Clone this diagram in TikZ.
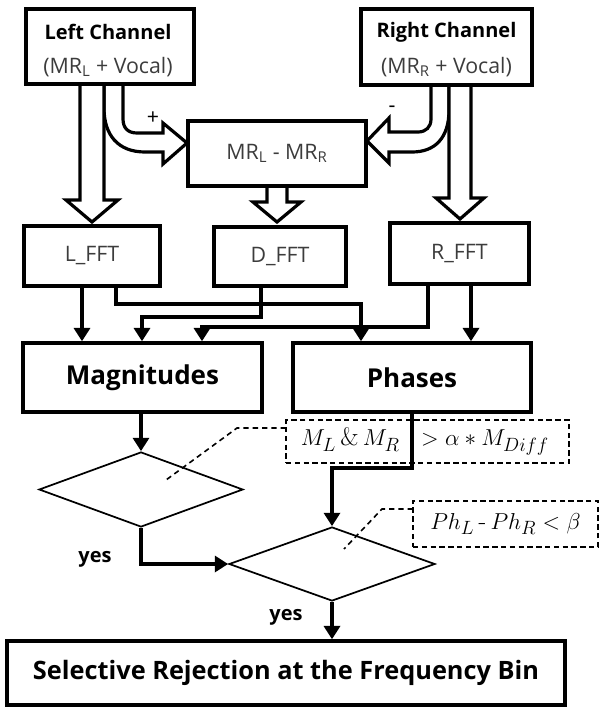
\documentclass[tikz,border=0pt]{standalone}
\usepackage{fontspec}
\setmainfont{Open Sans}
\newfontfamily\lmserif{Latin Modern Roman}
\usetikzlibrary{shapes.geometric,arrows.meta,calc}
\definecolor{txtgray}{HTML}{3C3C3C}
\tikzset{
  box/.style={draw, line width=2.6pt, rectangle, inner sep=0pt, align=center},
  hollow/.style={draw, line width=2.4pt, fill=white, line join=miter},
  conn/.style={line width=2.6pt, -{Triangle[width=12pt,length=10pt]}},
  dia/.style={draw, diamond, line width=1.3pt, inner sep=0pt},
  note/.style={draw, dash pattern=on 4pt off 2.6pt, line width=1.4pt, fill=white, inner sep=0pt},
  leader/.style={dash pattern=on 4pt off 3pt, line width=1.2pt},
  reg/.style={font=\fontsize{16}{18}\selectfont, text=txtgray},
  title/.style={font=\fontsize{15}{17}\selectfont\bfseries},
  big/.style={font=\fontsize{19.5}{22}\selectfont\bfseries},
  mathlbl/.style={font=\fontsize{19}{21}\selectfont}
}
\begin{document}
\begin{tikzpicture}[x=0.75pt,y=-0.75pt]
\useasboundingbox (0,0) rectangle (599,707);

% hollow arrows
\path[hollow] (104,84) -- (104,108) .. controls (104,135) and (118,152) .. (145,152) -- (163,152) -- (163,164) -- (187,143) -- (163,123) -- (163,133) -- (137,133) .. controls (128,133) and (123,128) .. (123,119) -- (123,84);
\path[hollow] (80,84) -- (80,200) -- (66,200) -- (92,222) -- (118,200) -- (104,200) -- (104,84);
\path[hollow] (449,85) -- (449,110) .. controls (449,138) and (435,152) .. (412,152) -- (389,152) -- (389,163) -- (367,141) -- (389,118) -- (389,132) -- (418,132) .. controls (426,132) and (431,127) .. (431,119) -- (431,85);
\path[hollow] (449,85) -- (449,198) -- (436,198) -- (460,219) -- (484,198) -- (471,198) -- (471,85);
\path[hollow] (267,186) -- (267,202) -- (253,202) -- (277,222) -- (301,202) -- (287,202) -- (287,186);

% boxes
\node[box, minimum width=126pt, minimum height=56.25pt] (left) at (110,46.5) {};
\node[title] (lefttitle) at (108,32) {Left Channel};
\node[reg] (leftsub) at (108,67) {(MR\textsubscript{L} + Vocal)};
\node[box, minimum width=128.25pt, minimum height=57pt] (right) at (446.5,47) {};
\node[title] (righttitle) at (446.5,32) {Right Channel};
\node[reg] (rightsub) at (446.5,67) {(MR\textsubscript{R} + Vocal)};
\node[box, reg, minimum width=133.5pt, minimum height=48.75pt] (mr) at (277,153.5) {MR\textsubscript{L} - MR\textsubscript{R}};
\node[reg, text=black] (plus) at (153,118) {+};
\node[reg, text=black] (minus) at (392,109) {-};

\node[box, reg, minimum width=102pt, minimum height=45pt] (lfft) at (92,256) {L\_FFT};
\node[box, reg, minimum width=99pt, minimum height=44.25pt] (dfft) at (280,256.5) {D\_FFT};
\node[box, reg, minimum width=104.25pt, minimum height=45.75pt] (rfft) at (459.5,253.5) {R\_FFT};

\node[box, big, minimum width=179.25pt, minimum height=51.75pt] (mag) at (142.5,377.5) {Magnitudes};
\node[box, big, minimum width=178.5pt, minimum height=51.75pt] (ph) at (412,377.5) {Phases};

\node[dia, minimum width=153pt, minimum height=56.25pt] (d1) at (141,489.5) {};
\node[dia, minimum width=154.5pt, minimum height=55.5pt] (d2) at (332,564) {};

\node[box, big, font=\fontsize{19}{22}\selectfont\bfseries, minimum width=418.5pt, minimum height=48pt] (final) at (286,673) {Selective Rejection at the Frequency Bin};

% notes
\coordinate (l1) at (166,480);
\coordinate (l2) at (344,549);
\draw[leader] (286,428) -- (237,428) -- (l1);
\draw[leader] (413,509) -- (382,509) -- (l2);
\node[note, mathlbl, minimum width=212.25pt, minimum height=32.25pt, text width=190pt, align=left, inner xsep=11pt] (n1) at (427.5,441.5)
  {$M_L$\,{\lmserif\&}\,$M_R$\hspace{16pt}$>\alpha*M_{Diff}$};
\node[note, mathlbl, minimum width=138.75pt, minimum height=34.5pt] (n2) at (505.5,524) {$Ph_L$\,{\lmserif -}\,$Ph_R<\beta$};

% connectors
\draw[conn] (lfft.south -| 82,0) -- (mag.north -| 82,0);
\draw[conn] (lfft.south -| 116,0) |- (361,304) -- (ph.north -| 361,0);
\draw[conn] (dfft.south -| 261,0) |- (142,317) -- (mag.north -| 142,0);
\draw[conn] (rfft.south -| 428,0) |- (202,327) -- (mag.north -| 202,0);
\draw[conn] (rfft.south -| 471,0) -- (ph.north -| 471,0);

\draw[conn] (mag.south -| d1.north) -- (d1.north);
\draw[conn] (d1.south) |- (d2.west);
\draw[conn] (ph.south) |- (332,468) -- (d2.north);
\draw[conn] (d2.south) -- (final.north -| d2.south);

\node[font=\fontsize{15}{17}\selectfont\bfseries] (yes1) at (95,559) {yes};
\node[font=\fontsize{15}{17}\selectfont\bfseries] (yes2) at (286,617) {yes};
\end{tikzpicture}
\end{document}
